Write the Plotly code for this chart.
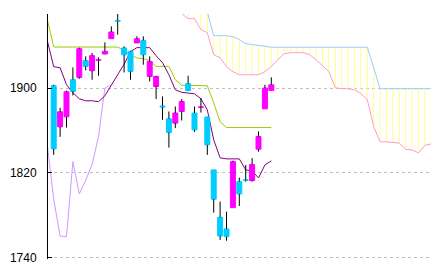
import plotly.graph_objects as go

# ---- candle data (index 0..34) ----
idx = list(range(35))
open_ = [1902.2, 1863.4, 1872.9, 1907.9, 1910.1, 1925.9, 1916.4, 1926.3, 1932.2, 1946.7,
         1964.0, 1937.9, 1934.7, 1942.6, 1945.1, 1911.0, 1901.5, 1883.0, 1871.0, 1866.9,
         1877.9, 1904.1, 1876.4, 1881.7, 1872.6, 1822.7, 1777.9, 1766.9, 1787.0, 1811.6,
         1813.5, 1812.6, 1842.3, 1880.4, 1897.8]
high = [1903.1, 1881.4, 1897.5, 1919.5, 1938.2, 1930.0, 1933.2, 1929.0, 1943.2, 1958.3,
        1972.0, 1939.4, 1935.3, 1948.9, 1948.9, 1930.0, 1911.7, 1892.1, 1877.9, 1882.6,
        1889.6, 1911.7, 1882.6, 1890.6, 1872.9, 1822.7, 1792.7, 1783.2, 1831.5, 1815.4,
        1827.4, 1833.8, 1859.0, 1903.1, 1910.1]
low = [1836.9, 1853.9, 1862.7, 1893.0, 1908.8, 1916.7, 1907.9, 1911.7, 1932.0, 1946.7,
       1950.5, 1914.8, 1907.9, 1942.6, 1922.1, 1906.3, 1889.6, 1870.0, 1843.8, 1862.2,
       1869.4, 1897.5, 1858.7, 1876.9, 1836.9, 1782.3, 1756.4, 1755.8, 1787.0, 1788.6,
       1811.6, 1811.6, 1840.0, 1880.4, 1897.8]
close = [1842.6, 1877.6, 1896.5, 1896.8, 1937.2, 1920.5, 1930.6, 1927.0, 1934.7, 1953.0,
         1963.2, 1931.5, 1915.7, 1946.7, 1931.5, 1925.2, 1911.0, 1882.0, 1858.0, 1876.4,
         1887.3, 1897.8, 1860.6, 1882.3, 1846.4, 1795.0, 1760.2, 1759.6, 1830.5, 1800.0,
         1812.9, 1827.7, 1854.2, 1900.0, 1903.1]

# ---- conversion / base lines (index -1..34) ----
line_x = list(range(-1, 35))
tenkan = [1944.8, 1920.2, 1919.2, 1903.2, 1895.6, 1889.9, 1888.0, 1888.0, 1887.1, 1892.7,
          1902.7, 1912.6, 1922.6, 1934.4, 1938.2, 1938.2, 1938.2, 1930.6, 1924.0, 1912.6,
          1898.4, 1896.0, 1895.6, 1894.6, 1889.9, 1879.5, 1851.1, 1834.1, 1833.1, 1833.1,
          1833.1, 1822.7, 1821.7, 1815.1, 1827.4, 1831.2]
kijun = [1964.7, 1938.8, 1938.8, 1938.8, 1938.8, 1938.8, 1938.8, 1938.8, 1938.8, 1938.8,
         1938.8, 1938.8, 1935.3, 1931.5, 1928.4, 1927.8, 1925.9, 1920.5, 1920.5, 1920.5,
         1907.9, 1902.7, 1902.5, 1902.3, 1902.2, 1902.2, 1886.1, 1868.1, 1862.7, 1862.7,
         1862.7, 1862.7, 1862.7, 1862.7, 1862.7, 1862.7]

# ---- leading spans (index 19..59) ----
cloud_x = list(range(19, 60))
senkou_a = [1985.0, 1970.4, 1965.6, 1965.6, 1955.2, 1952.4, 1931.5, 1928.7, 1920.2, 1915.5,
            1912.6, 1912.6, 1912.6, 1912.6, 1915.5, 1920.2, 1926.8, 1932.5, 1933.4, 1933.4,
            1933.4, 1931.5, 1926.8, 1921.1, 1915.5, 1900.3, 1899.4, 1899.4, 1898.4, 1894.6,
            1889.0, 1863.4, 1849.2, 1849.2, 1848.7, 1848.0, 1842.1, 1841.6, 1838.8, 1845.9,
            1847.3]
senkou_b = [1995.0, 1995.0, 1995.0, 1995.0, 1995.0, 1972.0, 1949.5, 1949.5, 1949.5, 1948.6,
            1945.7, 1942.0, 1941.0, 1940.1, 1939.6, 1938.6, 1938.6, 1938.6, 1938.6, 1938.6,
            1938.6, 1938.6, 1938.6, 1938.6, 1938.6, 1938.6, 1938.6, 1938.6, 1938.6, 1938.6,
            1938.6, 1919.2, 1899.4, 1899.4, 1899.4, 1899.4, 1899.4, 1899.4, 1899.4, 1899.4,
            1899.4]

chikou_shift = 25
y_ticks = [1740, 1820, 1900]
y_ticktext = ["1740", "1820", "1900"]

X_RANGE = [-0.89, 58.95]
Y_RANGE = [1738.5, 1970]

UP, DOWN = "#ff00ff", "#00ccff"

fig = go.Figure()

# cloud hatching (vertical yellow lines between spans)
cx, cy = [], []
for i, a, b in zip(cloud_x, senkou_a, senkou_b):
    cx += [i, i, None]
    cy += [a, b, None]
fig.add_trace(go.Scatter(x=cx, y=cy, mode="lines", line=dict(color="#ffff88", width=1),
                         hoverinfo="skip"))
fig.add_trace(go.Scatter(x=cloud_x, y=senkou_b, mode="lines", line=dict(color="#99ccff", width=1)))
fig.add_trace(go.Scatter(x=cloud_x, y=senkou_a, mode="lines", line=dict(color="#ff99cc", width=1)))

# lagging span
ch_src = list(range(len(close) - 1 - 10, len(close)))
fig.add_trace(go.Scatter(x=[i - chikou_shift for i in ch_src], y=[close[i] for i in ch_src],
                         mode="lines", line=dict(color="#cc99ff", width=1)))
fig.add_trace(go.Scatter(x=line_x, y=kijun, mode="lines", line=dict(color="#99cc00", width=1)))
fig.add_trace(go.Scatter(x=line_x, y=tenkan, mode="lines", line=dict(color="#800080", width=1)))

# candles on overlay axes (drawn on top)
wx, wy = [], []
for i, o, h, l, c in zip(idx, open_, high, low, close):
    top, bot = max(o, c), min(o, c)
    if h > top:
        wx += [i, i, None]; wy += [top, h, None]
    if l < bot:
        wx += [i, i, None]; wy += [bot, l, None]
fig.add_trace(go.Scatter(x=wx, y=wy, mode="lines", line=dict(color="black", width=1),
                         xaxis="x2", yaxis="y2"))
colors = [UP if c >= o else DOWN for o, c in zip(open_, close)]
fig.add_trace(go.Bar(x=idx, y=[c - o for o, c in zip(open_, close)], base=open_,
                     width=0.78, marker=dict(color=colors, line=dict(color=colors, width=1)),
                     xaxis="x2", yaxis="y2"))

fig.update_layout(
    width=436, height=271,
    margin=dict(l=48, r=5, t=14, b=12),
    paper_bgcolor="white", plot_bgcolor="white",
    showlegend=False, hovermode=False, barmode="overlay",
    xaxis=dict(range=X_RANGE, visible=False, showgrid=False, zeroline=False),
    yaxis=dict(range=Y_RANGE, tickvals=y_ticks, ticktext=y_ticktext,
               showline=True, linecolor="black", linewidth=1,
               ticks="inside", ticklen=4, tickcolor="black", tickwidth=1,
               showgrid=True, gridcolor="#c0c0c0", gridwidth=1, griddash="3px,3px",
               zeroline=False, ticklabelstandoff=8,
               tickfont=dict(family="Liberation Sans Narrow, Arial Narrow, sans-serif", size=12, color="black")),
    xaxis2=dict(range=X_RANGE, overlaying="x", visible=False),
    yaxis2=dict(range=Y_RANGE, overlaying="y", visible=False),
)

fig.write_html("out.html")
